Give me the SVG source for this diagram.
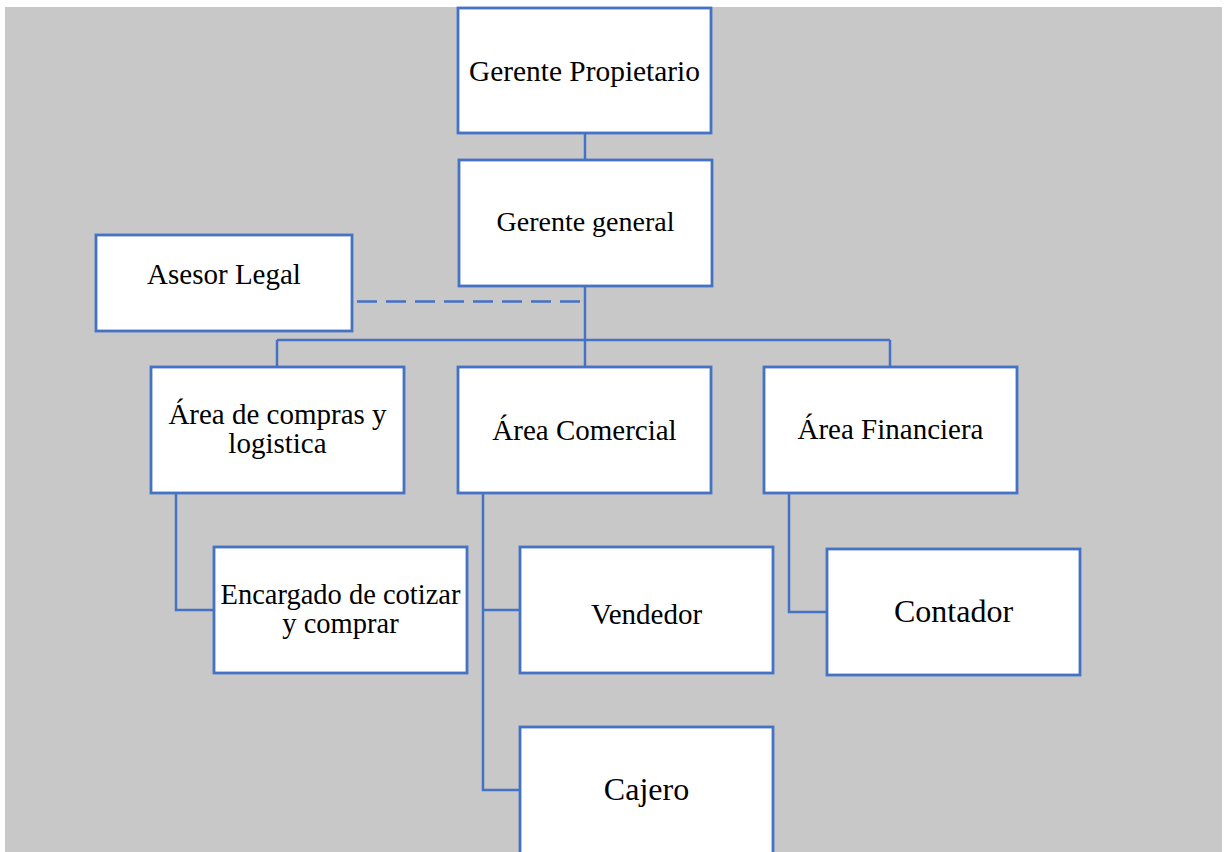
<svg xmlns="http://www.w3.org/2000/svg" width="1225" height="852" viewBox="0 0 1225 852">
<style>
.box{fill:#ffffff;stroke:#4472C4;stroke-width:2.8}
.ln{fill:none;stroke:#4472C4;stroke-width:2.5}
.dash{fill:none;stroke:#4472C4;stroke-width:2.5;stroke-dasharray:20 9}
.t{font-family:"Liberation Serif","Times New Roman",serif;font-size:29px;fill:#000;text-anchor:middle}
.big{font-size:32px}
</style>
<rect x="0" y="0" width="1225" height="852" fill="#ffffff"/>
<rect x="5" y="7" width="1217" height="845" fill="#c8c8c8"/>
<g id="connectors">
<line class="ln" x1="585" y1="133" x2="585" y2="160"/>
<line class="ln" x1="585" y1="286" x2="585" y2="367"/>
<line class="ln" x1="277" y1="340" x2="890" y2="340"/>
<line class="ln" x1="277" y1="340" x2="277" y2="367"/>
<line class="ln" x1="890" y1="340" x2="890" y2="367"/>
<line class="dash" x1="357" y1="301.5" x2="585" y2="301.5"/>
<polyline class="ln" points="176,493 176,610 214,610"/>
<polyline class="ln" points="483,493 483,790 520,790"/>
<line class="ln" x1="483" y1="610" x2="520" y2="610"/>
<polyline class="ln" points="789,493 789,612 827,612"/>
</g>
<g id="gerente-propietario">
<rect class="box" x="458" y="8" width="253" height="125"/>
<text class="t" x="584.5" y="81" style="font-size:29.4px">Gerente Propietario</text>
</g>
<g id="gerente-general">
<rect class="box" x="459" y="160" width="253" height="126"/>
<text class="t" x="585.5" y="231" style="font-size:28px">Gerente general</text>
</g>
<g id="asesor-legal">
<rect class="box" x="96" y="235" width="256" height="96"/>
<text class="t" x="224" y="284">Asesor Legal</text>
</g>
<g id="area-compras">
<rect class="box" x="151" y="367" width="253" height="126"/>
<text class="t" x="277.5" y="424">Área de compras y</text>
<text class="t" x="277.5" y="453">logistica</text>
</g>
<g id="area-comercial">
<rect class="box" x="458" y="367" width="253" height="126"/>
<text class="t" x="584.5" y="440">Área Comercial</text>
</g>
<g id="area-financiera">
<rect class="box" x="764" y="367" width="253" height="126"/>
<text class="t" x="890.5" y="439">Área Financiera</text>
</g>
<g id="encargado">
<rect class="box" x="214" y="547" width="253" height="126"/>
<text class="t" x="340.5" y="604" style="font-size:28.5px">Encargado de cotizar</text>
<text class="t" x="340.5" y="633" style="font-size:28.5px">y comprar</text>
</g>
<g id="vendedor">
<rect class="box" x="520" y="547" width="253" height="126"/>
<text class="t" x="646.5" y="624">Vendedor</text>
</g>
<g id="contador">
<rect class="box" x="827" y="549" width="253" height="126"/>
<text class="t big" x="953.5" y="622">Contador</text>
</g>
<g id="cajero">
<rect class="box" x="520" y="727" width="253" height="135"/>
<text class="t big" x="646.5" y="800">Cajero</text>
</g>
</svg>
